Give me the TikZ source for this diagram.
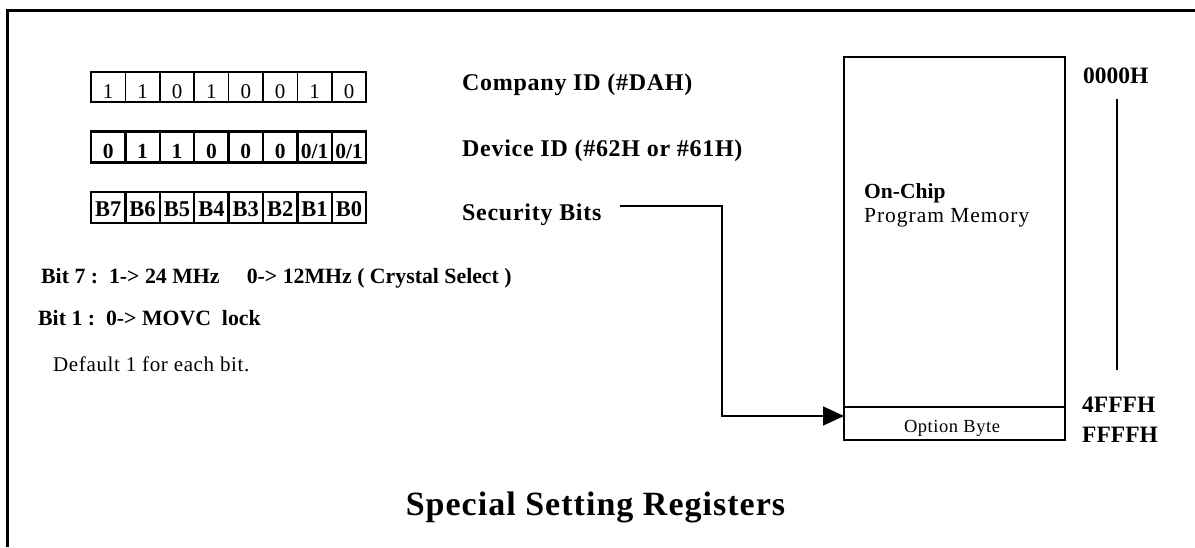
\documentclass[tikz,border=0pt]{standalone}
\usepackage{fontspec}
\setmainfont{Liberation Serif}
\newfontfamily\lsfont[LetterSpace=3]{Liberation Serif}
\newfontfamily\lsfontb[LetterSpace=4.5]{Liberation Serif}
\usetikzlibrary{arrows.meta}
\begin{document}
\begin{tikzpicture}[x=1pt,y=-1pt,
  cellthin/.style={draw, line width=1.5pt, minimum width=34.4pt, minimum height=30pt, inner sep=0pt, outer sep=0pt},
  cellthick/.style={draw, line width=2.3pt, minimum width=34.4pt, minimum height=31pt, inner sep=0pt, outer sep=0pt},
  txt/.style={anchor=base west, inner sep=0pt},
  ctxt/.style={anchor=base, inner sep=0pt},
  lbl/.style={txt, font=\lsfont\bfseries\fontsize{24}{28}\selectfont},
  addr/.style={txt, font=\bfseries\fontsize{23.5}{28}\selectfont},
  note/.style={txt, font=\bfseries\fontsize{21.8}{25}\selectfont},
  wire/.style={line width=1.5pt}
]
\useasboundingbox (0,0) rectangle (1195,547);
% outer frame
\draw[line width=2.7pt] (7.5,547) -- (7.5,10.7) -- (1195,10.7);

% row 1: company ID bits
\foreach \v [count=\i] in {1,1,0,1,0,0,1,0} {
  \node[cellthin] (a\i) at ({91+34.4*(\i-0.5)},87) {};
  \node[ctxt, font=\fontsize{21}{24}\selectfont] (ta\i) at ({91+34.4*(\i-0.5)},98) {\v};
}
% row 2: device ID bits
\foreach \v [count=\i] in {0,1,1,0,0,0,0/1,0/1} {
  \node[cellthick] (b\i) at ({91+34.4*(\i-0.5)},147) {};
  \node[ctxt, font=\bfseries\fontsize{21.5}{24}\selectfont] (tb\i) at ({91+34.4*(\i-0.5)},158) {\v};
}
% row 3: security bits
\foreach \v [count=\i] in {B7,B6,B5,B4,B3,B2,B1,B0} {
  \node[cellthick] (c\i) at ({91+34.4*(\i-0.5)},207.5) {};
  \node[ctxt, font=\bfseries\fontsize{22.5}{25}\selectfont] (tc\i) at ({91+34.4*(\i-0.5)},216) {\v};
}

% labels
\node[lbl] (comp) at (462,90) {Company ID (\#DAH)};
\node[lbl] (dev) at (462,156) {Device ID (\#62H or \#61H)};
\node[lbl] (sec) at (462,220) {Security Bits};

% notes
\node[note] (n7) at (41,283) {Bit 7 :\ \ 1-> 24 MHz\ \ \ \ \ 0-> 12MHz ( Crystal Select )};
\node[note] (n1) at (38,325) {Bit 1 :\ \ 0-> MOVC\ \ lock};
\node[txt, font=\lsfont\fontsize{21}{25}\selectfont] (def) at (53,371) {Default 1 for each bit.};

% memory map
\node[draw, line width=1.5pt, minimum width=221pt, minimum height=383pt, inner sep=0pt, outer sep=0pt] (mem) at (954.5,248.5) {};
\node[draw, line width=1.5pt, minimum width=221pt, minimum height=33pt, inner sep=0pt, outer sep=0pt] (opt) at (954.5,423.5) {};
\node[ctxt, font=\lsfont\fontsize{18.5}{20}\selectfont] (optt) at (952,432) {Option Byte};
\node[txt, font=\bfseries\fontsize{21.5}{25}\selectfont] (onchip) at (864,198) {On-Chip};
\node[txt, font=\lsfontb\fontsize{21.5}{25}\selectfont] (prog) at (864,222) {Program Memory};

% addresses
\node[addr] (a0) at (1083,83) {0000H};
\node[addr] (a4) at (1082,412) {4FFFH};
\node[addr] (af) at (1082,442) {FFFFH};
\coordinate (vtop) at (1117,99);
\coordinate (vbot) at (1117,370);
\draw[wire] (vtop) -- (vbot);

% connector
\coordinate (s0) at (620,206);
\coordinate (s1) at (722,206);
\coordinate (s2) at (722,416);
\draw[wire, -{Triangle[length=21pt,width=19pt]}] (s0) -- (s1) -- (s2) -- (s2 -| opt.west);

% title
\node[ctxt, font=\lsfont\bfseries\fontsize{34}{40}\selectfont] (title) at (595.5,515) {Special Setting Registers};
\end{tikzpicture}
\end{document}
